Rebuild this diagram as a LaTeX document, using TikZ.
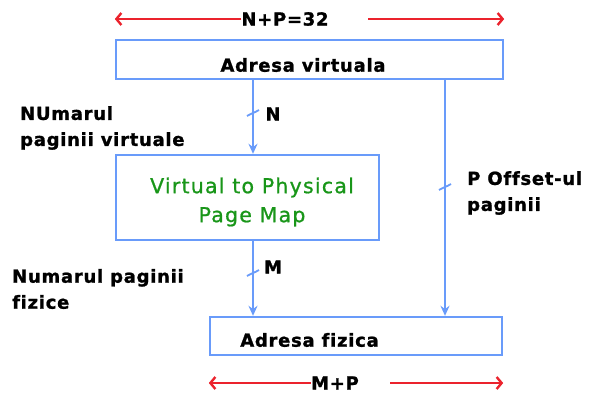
\documentclass[tikz,border=0pt]{standalone}
\usepackage{fontspec}
\setmainfont{DejaVu Sans}
\newfontfamily\lblfont{DejaVu Sans Bold}[LetterSpace=4,Ligatures=NoCommon,FakeBold=1.2]
\newfontfamily\mapfont{DejaVu Sans}[LetterSpace=6,FakeBold=0.9]
\usetikzlibrary{arrows.meta}
\definecolor{boxblue}{RGB}{105,155,250}
\definecolor{dimred}{RGB}{235,35,45}
\definecolor{mapgreen}{RGB}{25,150,25}
\tikzset{
  addrbox/.style={draw=boxblue, line width=2.4bp, rectangle, inner sep=0pt},
  lbl/.style={font=\lblfont\fontsize{18bp}{26bp}\selectfont, inner sep=0pt, text=black},
  maptext/.style={font=\mapfont\fontsize{20.5bp}{29bp}\selectfont, text=mapgreen, inner sep=0pt, align=center},
  flow/.style={draw=boxblue, line width=2.6bp, -{Stealth[length=10bp,width=9bp]}},
  busmark/.style={draw=boxblue, line width=1.8bp},
  dim/.style={draw=dimred, line width=2.4bp, -{Straight Barb[length=5bp,width=12bp,line width=2.4bp]}}
}
\begin{document}
\begin{tikzpicture}[x=1bp,y=-1bp]
\useasboundingbox (0,0) rectangle (596,393);

% boxes
\node[addrbox, minimum width=387bp, minimum height=39bp] (topbox) at (309.5,59.5) {};
\node[lbl] (toptext) at (303,65) {Adresa virtuala};
\node[addrbox, minimum width=263bp, minimum height=85bp] (vmap) at (247.5,197.5) {};
\node[maptext] (maptxt) at (252,202) {Virtual to Physical\\Page Map};
\node[addrbox, minimum width=292bp, minimum height=38bp] (physbox) at (356,336) {};
\node[lbl] (phystext) at (309.5,340) {Adresa fizica};

% columns of the two buses
\coordinate (colN) at (253,0);
\coordinate (colP) at (445,0);

% buses
\draw[flow] (topbox.south -| colN) -- (vmap.north -| colN);
\draw[flow] (vmap.south -| colN) -- (physbox.north -| colN);
\draw[flow] (topbox.south -| colP) -- (physbox.north -| colP);

% bus width marks
\coordinate (markN) at (253,113);
\coordinate (markM) at (253,273);
\coordinate (markP) at (445,187);
\foreach \m in {markN,markM,markP}
  \draw[busmark] ([shift={(-6,3)}]\m) .. controls ([shift={(-1,0)}]\m) and ([shift={(1,0)}]\m) .. ([shift={(6,-3)}]\m);

% bus labels
\node[lbl] (nlab) at (273,114) {N};
\node[lbl] (mlab) at (273,267) {M};
\node[lbl, anchor=west, align=left] (plab) at (467,193) {P Offset-ul\\paginii};

% side captions
\node[lbl, anchor=west, align=left] (vcap) at (20,128) {NUmarul\\paginii virtuale};
\node[lbl, anchor=west, align=left] (pcap) at (12,289) {Numarul paginii\\fizice};

% width dimensions
\node[lbl] (toplen) at (285,19) {N+P=32};
\coordinate (tl) at (topbox.west |- toplen);
\coordinate (tr) at (topbox.east |- toplen);
\coordinate (trs) at (368,19);
\draw[dim] (toplen.west) -- (tl);
\draw[dim] (trs) -- (tr);

\node[lbl] (botlen) at (335,383) {M+P};
\coordinate (bl) at (physbox.west |- botlen);
\coordinate (br) at (physbox.east |- botlen);
\coordinate (brs) at (390,383);
\draw[dim] (botlen.west) -- (bl);
\draw[dim] (brs) -- (br);
\end{tikzpicture}
\end{document}
